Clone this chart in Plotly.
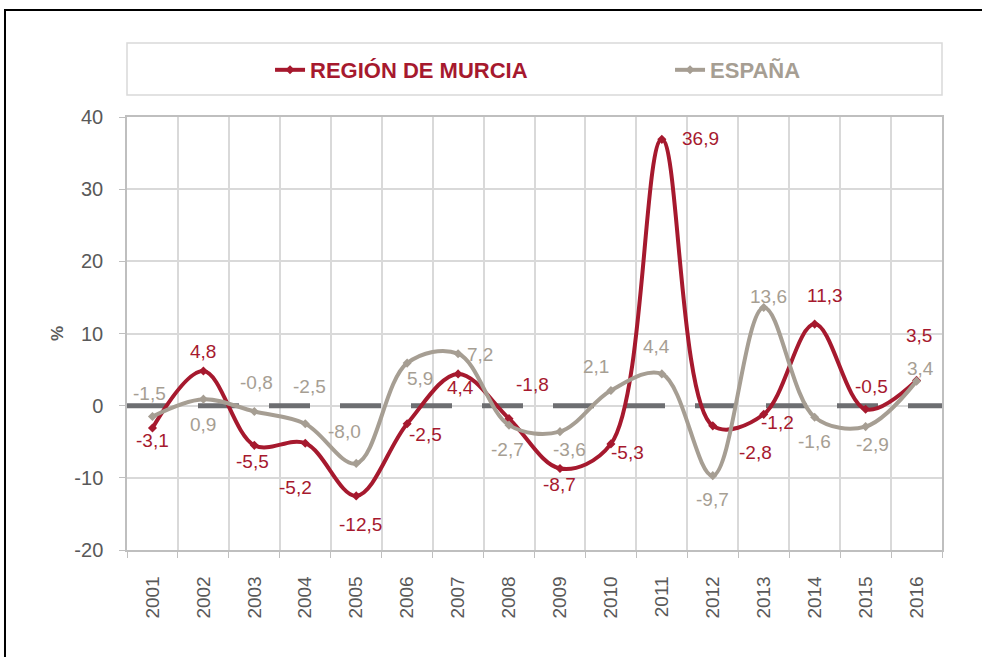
import plotly.graph_objects as go

years = [str(y) for y in range(2001, 2017)]
murcia = [-3.1, 4.8, -5.5, -5.2, -12.5, -2.5, 4.4, -1.8, -8.7, -5.3, 36.9, -2.8, -1.2, 11.3, -0.5, 3.5]
espana = [-1.5, 0.9, -0.8, -2.5, -8.0, 5.9, 7.2, -2.7, -3.6, 2.1, 4.4, -9.7, 13.6, -1.6, -2.9, 3.4]
y_ticks = [-20, -10, 0, 10, 20, 30, 40]
y_tick_labels = ["-20", "-10", "0", "10", "20", "30", "40"]

# label offsets in pixels (dx right, dy down) relative to each point
murcia_off = [(0, 12), (0, -20), (-2, 16), (-10, 44), (4, 29), (18, 11), (2, 14), (23, -34),
              (0, 16), (17, 9), (39, -1), (43, 27), (14, 8), (10, -29), (6, -23), (2, -45)]
espana_off = [(-3, -23), (0, 25), (2, -29), (4, -37), (-12, -32), (13, 15), (22, 1), (-2, 24),
              (10, 18), (-15, -24), (-5, -27), (0, 24), (5, -11), (0, 24), (7, 18), (4, -13)]

RED = "#A6192E"
GREY = "#A69E93"
TXT = "#595959"
GRID = "#D9D9D9"
FONT = "Liberation Sans, Arial, sans-serif"

fig = go.Figure()
fig.add_trace(go.Scatter(
    x=years, y=murcia, name="REGIÓN DE MURCIA", mode="lines+markers",
    line=dict(color=RED, width=4, shape="spline", smoothing=1.0),
    marker=dict(symbol="diamond", size=7, color=RED), legend="legend"))
fig.add_trace(go.Scatter(
    x=years, y=espana, name="ESPAÑA", mode="lines+markers",
    line=dict(color=GREY, width=4, shape="spline", smoothing=1.0),
    marker=dict(symbol="diamond", size=7, color=GREY), legend="legend2"))

def fmt(v):
    return f"{v:.1f}".replace(".", ",")

for series, offs, col in ((murcia, murcia_off, RED), (espana, espana_off, GREY)):
    for i, (v, (dx, dy)) in enumerate(zip(series, offs)):
        fig.add_annotation(x=i, y=v, xref="x", yref="y", text=fmt(v), showarrow=False,
                           xshift=dx, yshift=-dy,
                           font=dict(size=19, color=col, family=FONT))

# outer frame
fig.add_shape(type="rect", xref="paper", yref="paper", x0=-0.1497, x1=1.2, y0=-0.5, y1=1.2471,
              line=dict(color="black", width=2), fillcolor="rgba(0,0,0,0)", layer="above")
# legend box
fig.add_shape(type="rect", xref="paper", yref="paper", x0=0, x1=1, y0=1.0508, y1=1.1709,
              line=dict(color=GRID, width=1.5), fillcolor="rgba(0,0,0,0)")
# dashed zero line
fig.add_shape(type="line", xref="x", yref="y", x0=-0.5, x1=15.5, y0=0, y1=0,
              line=dict(color="#6D6E71", width=5, dash="41px,30px"), layer="between")

fig.update_layout(
    width=982, height=657,
    margin=dict(l=127, r=40, t=117, b=107),
    paper_bgcolor="white", plot_bgcolor="white",
    font=dict(family=FONT, color=TXT),
    showlegend=True,
    legend=dict(orientation="h", x=0.1755, xanchor="left", y=1.1085, yanchor="middle",
                font=dict(size=22, color=RED, family=FONT, weight="bold"),
                bgcolor="rgba(0,0,0,0)", borderwidth=0),
    legend2=dict(orientation="h", x=0.6663, xanchor="left", y=1.1085, yanchor="middle",
                 font=dict(size=22, color=GREY, family=FONT, weight="bold"),
                 bgcolor="rgba(0,0,0,0)", borderwidth=0),
)

fig.update_xaxes(
    type="category", categoryorder="array", categoryarray=years, range=[-0.5, 15.5],
    tickson="boundaries", ticks="outside", ticklen=6, tickcolor="#BFBFBF",
    tickangle=-90, tickfont=dict(size=19, color=TXT, family=FONT), ticklabelstandoff=17,
    showgrid=True, gridcolor=GRID, gridwidth=1.5,
    showline=True, mirror=True, linecolor="#BFBFBF", linewidth=1.5, zeroline=False,
)
fig.update_yaxes(
    range=[-20, 40], tickvals=y_ticks, ticktext=y_tick_labels,
    ticks="outside", ticklen=6, tickcolor="#BFBFBF",
    tickfont=dict(size=20, color=TXT, family=FONT), ticklabelstandoff=12,
    showgrid=True, gridcolor=GRID, gridwidth=1.5,
    showline=True, mirror=True, linecolor="#BFBFBF", linewidth=1.5, zeroline=False,
    title=dict(text="<b>%</b>", font=dict(size=17, color=TXT, family=FONT), standoff=6),
)

fig.write_html("out.html", config={"displayModeBar": False},
               post_script="document.body.style.margin='0';")
